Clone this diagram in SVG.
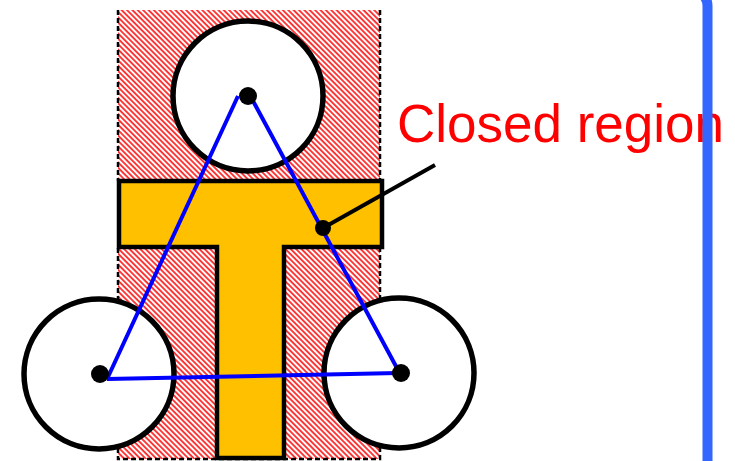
<svg xmlns="http://www.w3.org/2000/svg" width="735" height="461" viewBox="0 0 735 461">
<defs>
<pattern id="hatch" width="10" height="3.8" patternUnits="userSpaceOnUse" patternTransform="rotate(45)">
<rect x="0" y="0" width="10" height="1.8" fill="#ff2a2a"/>
</pattern>
<style>
.hatch{fill:url(#hatch);stroke:none}
.dash{stroke:#000;stroke-width:2.5;stroke-dasharray:5 3;fill:none}
.tee{fill:#FFC000;stroke:#000;stroke-width:4.5;stroke-linejoin:miter}
.wheel{fill:#fff;stroke:#000;stroke-width:5.5}
.dot{fill:#000}
.tri{stroke:#0000FF;stroke-width:4;fill:none;stroke-linecap:butt}
</style>
</defs>
<rect width="735" height="461" fill="#fff"/>
<g id="hatch-top">
<rect class="hatch" x="118" y="10" width="262" height="171"/>
<path class="dash" d="M118,10 V181 M380,10 V181"/>
</g>
<g id="hatch-bottom">
<rect class="hatch" x="118" y="248" width="262" height="211"/>
<path class="dash" d="M118,248 V459 H380 V248"/>
</g>
<g id="tee">
<path class="tee" d="M119,181 H382 V247 H284 V458 H217 V247 H119 Z"/>
</g>
<g id="wheel-top"><circle class="wheel" cx="248" cy="96" r="75"/></g>
<g id="wheel-left"><circle class="wheel" cx="99" cy="374" r="75"/></g>
<g id="wheel-right"><circle class="wheel" cx="399" cy="373" r="75"/></g>
<g id="connectors">
<path class="tri" d="M238,96 L108,377 M107,379 L398,373 M398,370 L252,99"/>
<line x1="323" y1="228" x2="435" y2="165" stroke="#000" stroke-width="4"/>
</g>
<g id="dots">
<circle class="dot" cx="248" cy="96" r="9"/>
<circle class="dot" cx="100" cy="374" r="9"/>
<circle class="dot" cx="401" cy="373" r="9"/>
<circle class="dot" cx="323" cy="228" r="8"/>
</g>
<g id="label">
<text x="397" y="142" font-family="Liberation Sans, Arial, sans-serif" font-size="53" fill="#FF0000">Closed region</text>
</g>
<g id="frame">
<path d="M707.5,461 V6 Q707.5,0 704,-4" fill="none" stroke="#3366FF" stroke-width="10"/>
</g>
</svg>
